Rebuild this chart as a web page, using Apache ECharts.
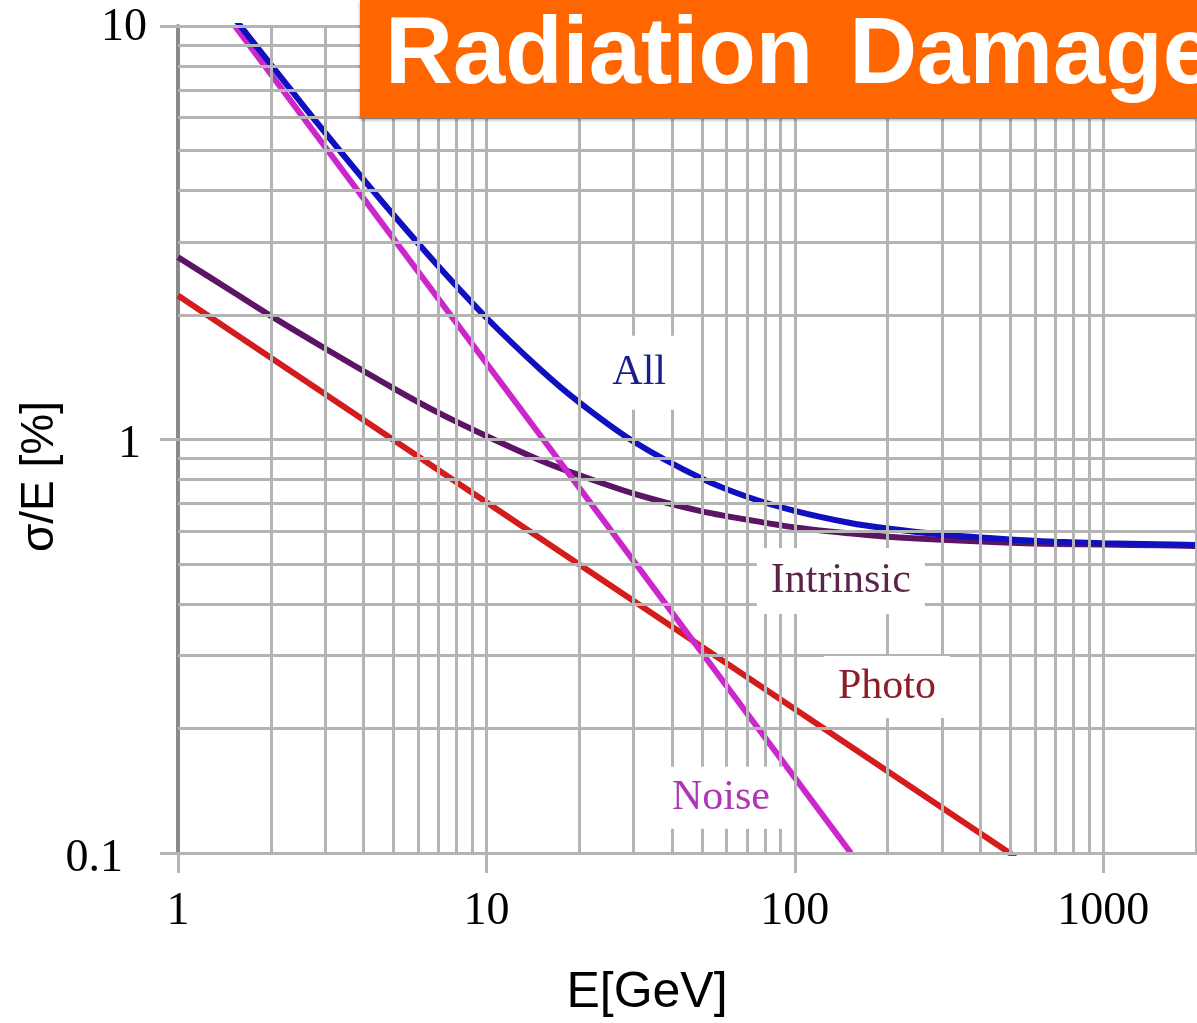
<!DOCTYPE html>
<html>
<head>
<meta charset="utf-8">
<script src="https://cdn.jsdelivr.net/npm/echarts@6/dist/echarts.min.js"></script>
<style>
  html, body { margin: 0; padding: 0; background: #ffffff; }
  #chart { width: 1197px; height: 1023px; }
</style>
</head>
<body>
<div id="chart"></div>
<script>
// Energy resolution contributions of the calorimeter, sigma/E [%] versus E [GeV]
const xTickLabels = [1, 10, 100, 1000];
const yTickLabels = [0.1, 1, 10];

// Log-grid line positions (the x = 1 line is the y axis itself)
const gridX = [2, 3, 4, 5, 6, 7, 8, 9,
               10, 20, 30, 40, 50, 60, 70, 80, 90,
               100, 200, 300, 400, 500, 600, 700, 800, 900,
               1000, 2000];
const gridY = [0.1, 0.2, 0.3, 0.4, 0.5, 0.6, 0.7, 0.8, 0.9,
               1, 2, 3, 4, 5, 6, 7, 8, 9, 10];

// [E in GeV, sigma/E in %]
const noise = [[1.53, 10], [15.3, 1], [152, 0.1]];
const photo = [[1, 2.23], [10, 0.705], [100, 0.223], [520, 0.0978]];
const intrinsic = [
  [1, 2.76], [1.5, 2.28], [2, 1.99], [3, 1.66], [5, 1.33], [7, 1.16],
  [10, 1.02], [15, 0.89], [20, 0.82], [30, 0.74], [50, 0.67], [70, 0.64],
  [100, 0.613], [150, 0.593], [200, 0.582], [300, 0.572], [500, 0.563],
  [700, 0.559], [1000, 0.557], [1500, 0.555], [2000, 0.553]
];
const all = [
  [1.5, 10.61], [1.6, 9.97], [2, 8.07], [2.5, 6.54], [3, 5.52], [4, 4.25],
  [5, 3.49], [7, 2.62], [10, 1.97], [15, 1.475], [20, 1.23], [30, 0.989],
  [50, 0.804], [70, 0.727], [100, 0.672], [150, 0.629], [200, 0.609],
  [300, 0.589], [500, 0.573], [700, 0.566], [1000, 0.561], [1500, 0.558],
  [2000, 0.556]
];

const SERIF = '"Liberation Serif", "Times New Roman", serif';
const SANS = '"Liberation Sans", Arial, sans-serif';
const GRID_COLOR = '#b4b4b4';

function isDecade(v) {
  const l = Math.log10(v);
  return Math.abs(l - Math.round(l)) < 1e-6;
}

function tagLabel(name, coord, color, pad) {
  return {
    symbol: 'rect',
    symbolSize: 1,
    itemStyle: { color: 'rgba(0,0,0,0)' },
    label: {
      show: true,
      position: 'inside',
      formatter: name,
      fontFamily: SERIF,
      fontSize: 42,
      color: color,
      backgroundColor: '#ffffff',
      padding: pad
    },
    data: [{ coord: coord }]
  };
}

function curve(name, data, color, smooth, labelCoord, labelColor, pad) {
  return {
    name: name,
    type: 'line',
    data: data,
    showSymbol: false,
    smooth: smooth,
    clip: true,
    z: 3,
    lineStyle: { color: color, width: 6 },
    emphasis: { disabled: true },
    markPoint: tagLabel(name, labelCoord, labelColor, pad)
  };
}

const chart = echarts.init(document.getElementById('chart'), null, { renderer: 'canvas' });

chart.setOption({
  animation: false,
  backgroundColor: '#ffffff',
  grid: { left: 178, right: 1, top: 26, bottom: 166, containLabel: false },
  xAxis: {
    type: 'log',
    logBase: 10,
    min: 1,
    max: 2000,
    name: 'E[GeV]',
    nameLocation: 'middle',
    nameGap: 115,
    nameMoveOverlap: false,
    nameTextStyle: { fontFamily: SANS, fontSize: 50, color: '#000', padding: [0, 80, 0, 0] },
    axisLine: { show: true, lineStyle: { color: GRID_COLOR, width: 3 } },
    axisTick: { show: true, length: 20, lineStyle: { color: GRID_COLOR, width: 3 } },
    axisLabel: {
      margin: 36,
      fontFamily: SERIF,
      fontSize: 46,
      color: '#000',
      showMaxLabel: false,
      formatter: function (v) {
        if (!isDecade(v)) return '';
        const t = xTickLabels.find(function (d) { return Math.abs(d - v) / d < 1e-6; });
        return t === undefined ? '' : String(t);
      }
    },
    splitLine: { show: false },
    minorTick: { show: false }
  },
  yAxis: {
    type: 'log',
    logBase: 10,
    min: 0.1,
    max: 10,
    name: 'σ/E [%]',
    nameLocation: 'middle',
    nameGap: 115,
    nameRotate: 90,
    nameMoveOverlap: false,
    nameTextStyle: { fontFamily: SANS, fontSize: 46, color: '#000', padding: [0, 74, 0, 0] },
    axisLine: { show: true, lineStyle: { color: '#8a8a8a', width: 4 } },
    axisTick: { show: true, length: 18, lineStyle: { color: GRID_COLOR, width: 3 } },
    axisLabel: {
      margin: 31,
      fontFamily: SERIF,
      fontSize: 46,
      color: '#000',
      formatter: function (v) {
        const t = yTickLabels.find(function (d) { return Math.abs(d - v) / d < 1e-6; });
        if (t === undefined) return '';
        if (t === 10) return '{a|10}';
        if (t === 1) return '{b|1}';
        return '{c|0.1}';
      },
      rich: {
        a: { fontFamily: SERIF, fontSize: 46, color: '#000', padding: [4, 0, 0, 0] },
        b: { fontFamily: SERIF, fontSize: 46, color: '#000', padding: [10, 6, 0, 0] },
        c: { fontFamily: SERIF, fontSize: 46, color: '#000', padding: [12, 24, 0, 0] }
      }
    },
    splitLine: { show: false }
  },
  graphic: [
    {
      type: 'rect',
      x: 360, y: 0,
      shape: { width: 837, height: 118 },
      style: { fill: '#ff6600', shadowBlur: 3, shadowOffsetY: 2, shadowColor: 'rgba(0,0,0,0.35)' },
      z: 100
    },
    {
      type: 'text',
      x: 385, y: 57,
      style: {
        text: '{w|Radiation}{g|Damage}',
        align: 'left',
        verticalAlign: 'middle',
        rich: {
          w: { fill: '#ffffff', font: 'bold 94px "Liberation Sans", Arial, sans-serif' },
          g: { fill: '#ffffff', font: 'bold 94px "Liberation Sans", Arial, sans-serif', padding: [0, 0, 0, 36] }
        }
      },
      z: 101
    }
  ],
  series: [
    {
      name: 'grid',
      type: 'line',
      data: [[1, 0.1]],
      showSymbol: false,
      silent: true,
      z: 1,
      lineStyle: { width: 0, opacity: 0 },
      markLine: {
        silent: true,
        symbol: ['none', 'none'],
        label: { show: false },
        emphasis: { disabled: true },
        lineStyle: { color: GRID_COLOR, width: 3, type: 'solid' },
        data: gridX.map(function (v) { return { xAxis: v }; })
          .concat(gridY.map(function (v) { return { yAxis: v }; }))
      }
    },
    curve('Photo', photo, '#d41c1c', false, [199, 0.252], '#8e1c2a', [10, 14]),
    curve('Intrinsic', intrinsic, '#5c1464', 0.3, [141, 0.455], '#5c2448', [12, 14]),
    curve('Noise', noise, '#cc26cc', false, [57.6, 0.136], '#b035b5', [10, 14]),
    curve('All', all, '#1010c0', 0.3, [31.3, 1.45], '#1c1c8e', [16, 18])
  ]
});
</script>
</body>
</html>
